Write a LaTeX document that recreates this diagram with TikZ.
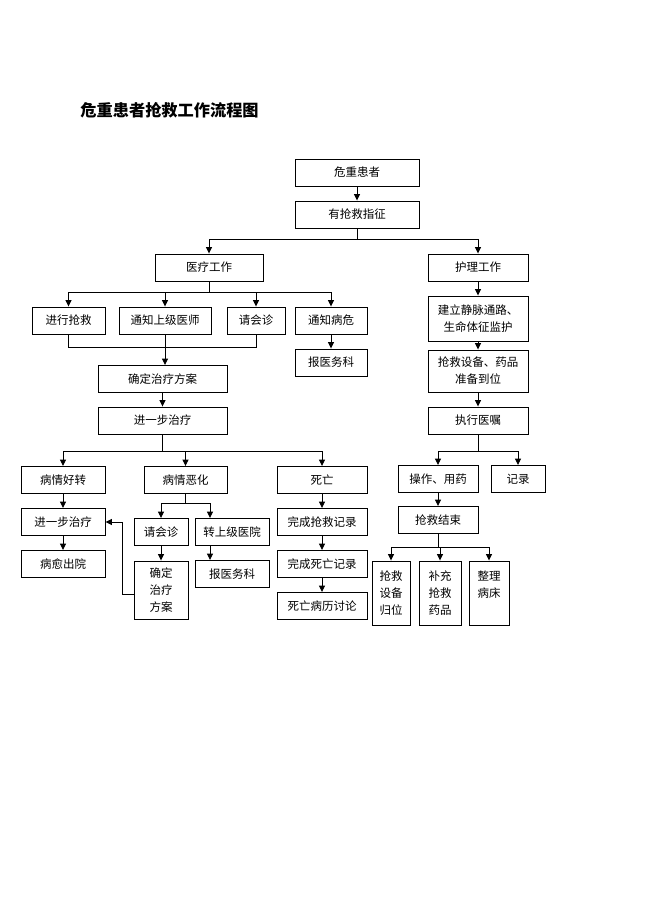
\documentclass[tikz,border=0pt]{standalone}
\usepackage{fontspec}
\setmainfont{Noto Sans CJK SC}
\usepackage{tikz}
\usetikzlibrary{arrows.meta, positioning}

\begin{document}
\begin{tikzpicture}[x=1pt, y=-1pt, line width=0.9pt,
  >={Triangle[length=6.5pt, width=6pt]},
  box/.style={rectangle, draw, inner sep=0pt, minimum height=27pt, align=center,
    font=\fontsize{11.5}{17}\selectfont}]
  \useasboundingbox (0,0) rectangle (650,920);
  \node[anchor=west, inner sep=0pt, font=\fontsize{16.2}{18}\selectfont\bfseries] (T) at (80,110) {危重患者抢救工作流程图};
  % top
  \node[box, minimum width=124] (Pat) at (357,172.5) {危重患者};
  \node[box, minimum width=124] (Ind) at (357,214.5) {有抢救指征};
  \node[box, minimum width=108] (Med) at (209,267.5) {医疗工作};
  \node[box, minimum width=100] (Nurse) at (478,267.5) {护理工作};
  % medical side
  \node[box, minimum width=73] (Resc) at (68.5,320.5) {进行抢救};
  \node[box, minimum width=92] (Sup) at (165,320.5) {通知上级医师};
  \node[box, minimum width=58] (Cons) at (256,320.5) {请会诊};
  \node[box, minimum width=72] (Crit) at (331,320.5) {通知病危};
  \node[box, minimum width=72] (Rep) at (331,362.5) {报医务科};
  \node[box, minimum width=129] (Plan) at (162.5,379) {确定治疗方案};
  \node[box, minimum width=129] (Treat) at (162.5,420.5) {进一步治疗};
  \node[box, minimum width=84] (Good) at (63,480) {病情好转};
  \node[box, minimum width=83] (Bad) at (185.5,480) {病情恶化};
  \node[box, minimum width=90] (Dead) at (322,480) {死亡};
  \node[box, minimum width=84] (TreatB) at (63,522) {进一步治疗};
  \node[box, minimum width=84] (Cure) at (63,564) {病愈出院};
  \node[box, minimum width=54] (ConsB) at (161,532) {请会诊};
  \node[box, minimum width=74] (Hosp) at (232,532) {转上级医院};
  \node[box, minimum width=54, minimum height=58] (PlanB) at (161,590) {确定\\治疗\\方案};
  \node[box, minimum width=74] (RepB) at (232,574) {报医务科};
  \node[box, minimum width=90] (DRec) at (322,522) {完成抢救记录};
  \node[box, minimum width=90] (DDeath) at (322,564) {完成死亡记录};
  \node[box, minimum width=90] (DDisc) at (322,606) {死亡病历讨论};
  % nursing side
  \node[box, minimum width=100, minimum height=45] (IV) at (478,318.5) {建立静脉通路、\\生命体征监护};
  \node[box, minimum width=100, minimum height=42] (Equip) at (478,371) {抢救设备、药品\\准备到位};
  \node[box, minimum width=100] (Exec) at (478,420.5) {执行医嘱};
  \node[box, minimum width=80] (Op) at (438,479) {操作、用药};
  \node[box, minimum width=54] (Rec) at (518,479) {记录};
  \node[box, minimum width=80] (End) at (438,520) {抢救结束};
  \node[box, minimum width=38, minimum height=64] (EqB) at (391,593) {抢救\\设备\\归位};
  \node[box, minimum width=42, minimum height=64] (Drug) at (440,593) {补充\\抢救\\药品};
  \node[box, minimum width=40, minimum height=64] (Bed) at (489,593) {整理\\病床\\\phantom{病床}};
  % connectors
  \draw[->] (Pat) -- (Ind);
  \draw[->] (Ind.south) -- ++(0,11) -| (Med.north);
  \draw[->] (Ind.south) -- ++(0,11) -| (Nurse.north);
  \foreach \x in {Resc,Sup,Cons,Crit}
    \draw[->] (Med.south) -- ++(0,11) -| (\x.north);
  \draw[->] (Crit) -- (Rep);
  \draw (Resc.south) -- ++(0,13) -| (Cons.south);
  \draw[->] (Sup.south) -- (Sup.south |- Plan.north);
  \draw[->] (Plan) -- (Treat);
  \foreach \x in {Good,Bad,Dead}
    \draw[->] (Treat.south) -- ++(0,17) -| (\x.north);
  \draw[->] (Good) -- (TreatB);
  \draw[->] (TreatB) -- (Cure);
  \draw[->] (Bad.south) -- ++(0,9) -| (ConsB.north);
  \draw[->] (Bad.south) -- ++(0,9) -| ([xshift=-22pt]Hosp.north);
  \draw[->] (ConsB) -- (PlanB);
  \draw[->] ([xshift=-22pt]Hosp.south) -- ([xshift=-22pt]RepB.north);
  \draw[->] ([yshift=-4pt]PlanB.west) -- ++(-11,0) |- (TreatB.east);
  \draw[->] (Dead) -- (DRec);
  \draw[->] (DRec) -- (DDeath);
  \draw[->] (DDeath) -- (DDisc);
  \draw[->] (Nurse) -- (IV);
  \draw[->] (IV) -- (Equip);
  \draw[->] (Equip) -- (Exec);
  \foreach \x in {Op,Rec}
    \draw[->] (Exec.south) -- ++(0,17) -| (\x.north);
  \draw[->] (Op) -- (End);
  \foreach \x in {EqB,Drug,Bed}
    \draw[->] (End.south) -- ++(0,13) -| (\x.north);
\end{tikzpicture}
\end{document}
